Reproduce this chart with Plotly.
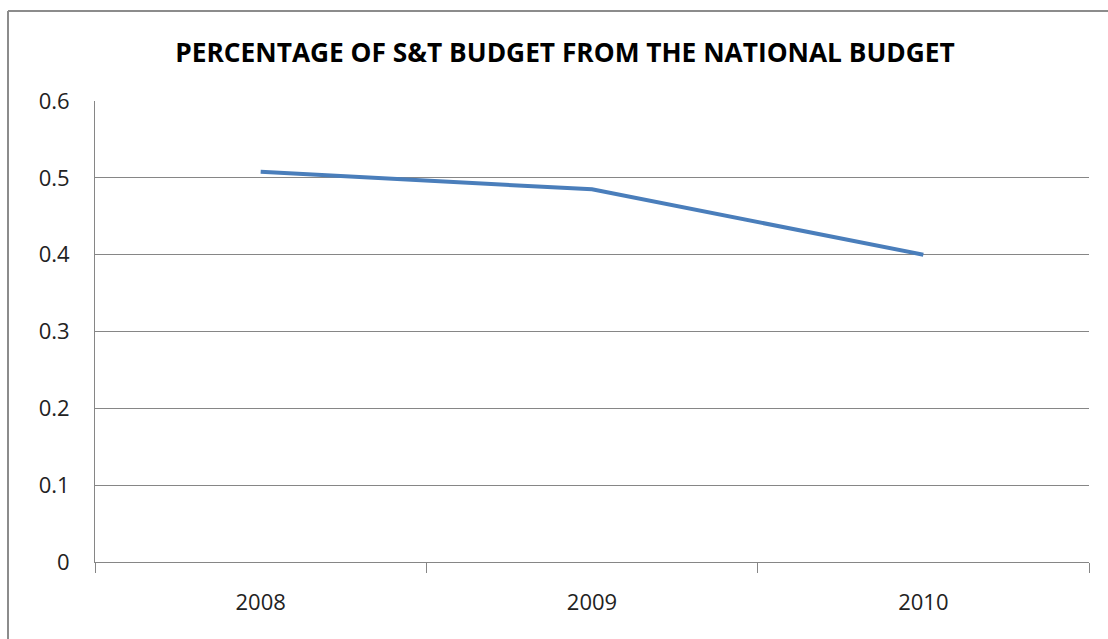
import plotly.graph_objects as go

years = ["2008", "2009", "2010"]
share = [0.508, 0.485, 0.40]
y_ticks = [0, 0.1, 0.2, 0.3, 0.4, 0.5, 0.6]

W, H = 1108, 639
L, R, T, B = 95, 19, 101, 77
pw, ph = W - L - R, H - T - B

def px(x):
    return (x - L) / pw

def py(y):
    return 1 - (y - T) / ph

fig = go.Figure()
fig.add_trace(go.Scatter(
    x=years, y=share, mode="lines",
    line=dict(color="#4a7ebb", width=4),
    showlegend=False, hoverinfo="x+y",
))

fig.update_layout(
    width=W, height=H,
    margin=dict(l=L, r=R, t=T, b=B),
    paper_bgcolor="white", plot_bgcolor="white",
    font=dict(family="Open Sans", color="#222222"),
    title=dict(
        text="<b>PERCENTAGE OF S&amp;T BUDGET FROM THE NATIONAL BUDGET</b>",
        xref="container", yref="container",
        x=565 / W, xanchor="center", y=1 - 53 / H, yanchor="middle",
        font=dict(family="Open Sans", size=26.3, color="#000000"),
    ),
    xaxis=dict(
        type="category", range=[-0.5, 2.5],
        showgrid=False, showline=True, linecolor="#868686", linewidth=1,
        ticks="outside", tickson="boundaries", ticklen=10, tickcolor="#868686",
        ticklabelstandoff=21,
        tickfont=dict(size=22, color="#222222"),
        zeroline=False,
    ),
    yaxis=dict(
        range=[0, 0.6], tickvals=y_ticks, ticktext=[("%g" % v) for v in y_ticks],
        showgrid=True, gridcolor="#868686", gridwidth=1,
        showline=True, linecolor="#868686", linewidth=1,
        ticks="", ticklabelstandoff=20,
        tickfont=dict(size=22, color="#222222"),
        zeroline=False,
    ),
    shapes=[
        dict(type="line", xref="paper", yref="paper",
             x0=px(8), x1=px(8), y0=py(11), y1=py(700),
             line=dict(color="#8c8c8c", width=2)),
        dict(type="line", xref="paper", yref="paper",
             x0=px(8), x1=px(1200), y0=py(11), y1=py(11),
             line=dict(color="#8c8c8c", width=2)),
    ],
)

fig.write_html("out.html")
